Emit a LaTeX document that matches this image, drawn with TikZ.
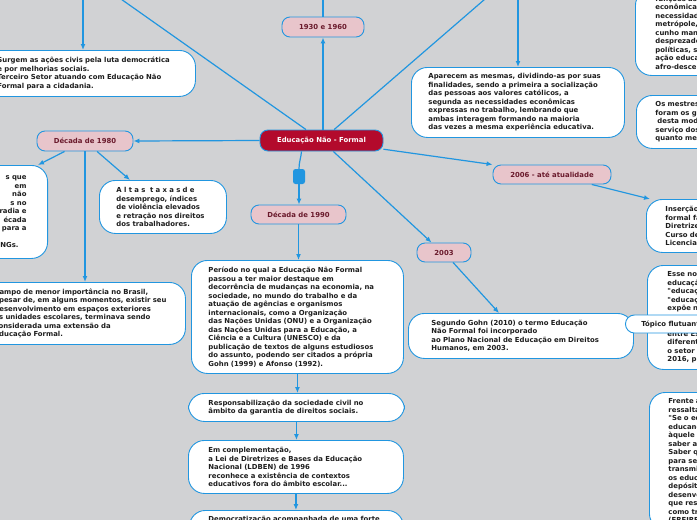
\documentclass[tikz,border=0pt]{standalone}
\usepackage{fontspec}
\usepackage{tikz}
\usetikzlibrary{positioning, arrows.meta}
\newfontfamily\mapfont{DejaVu Sans}
\definecolor{canvas}{HTML}{D1D2D4}
\definecolor{linkblue}{HTML}{2196E0}
\definecolor{topicpink}{HTML}{E8C5CB}
\definecolor{topictext}{HTML}{6A1A2C}
\definecolor{rootred}{HTML}{B30A2C}
\definecolor{notetext}{HTML}{1E1E1E}
\newcommand{\mapsize}{\fontsize{6.9}{8.5}\selectfont}

\begin{document}
\begin{tikzpicture}[x=1pt, y=-1pt,
  conn/.style={draw=linkblue, line width=1.2pt},
  arr/.style={conn, -{Latex[length=6pt,width=5pt]}},
  topic/.style={rectangle, rounded corners=8pt, draw=linkblue, line width=0.9pt,
    fill=topicpink, text=topictext, font=\mapfont\bfseries\mapsize, inner sep=0pt},
  root/.style={topic, fill=rootred, text=white},
  note/.style={rectangle, rounded corners=16pt, draw=linkblue, line width=0.9pt,
    fill=white, text=notetext, font=\mapfont\bfseries\mapsize, align=left,
    anchor=north west, inner ysep=2pt},
  floating/.style={rectangle, rounded corners=9pt, draw=linkblue, line width=0.9pt,
    fill=white, text=notetext, font=\mapfont\bfseries\mapsize, anchor=west,
    inner xsep=16pt, inner ysep=0pt, minimum height=18pt},
  handle/.style={rectangle, rounded corners=2.5pt, fill=linkblue, minimum width=12pt,
    minimum height=15pt, inner sep=0pt},
  ]
\useasboundingbox (0,0) rectangle (697,520);
\fill[canvas] (0,0) rectangle (697,520);
\clip (0,0) rectangle (697,520);

% topics
\node[root, minimum width=123pt, minimum height=21pt] (central) at (321.5,140.5) {Educação Não - Formal};
\node[topic, minimum width=82pt, minimum height=20pt] (t1930) at (323,27) {1930 e 1960};
\node[topic, minimum width=96pt, minimum height=20pt] (t1980) at (85,141) {Década de 1980};
\node[topic, minimum width=95pt, minimum height=19pt] (t1990) at (298.5,214.5) {Década de 1990};
\node[topic, minimum width=118pt, minimum height=19pt] (t2006) at (552,174.5) {2006 - até atualidade};
\node[topic, minimum width=54pt, minimum height=19pt] (t2003) at (444,252.5) {2003};
\node[handle] (fold) at (299,176.5) {};

% notes
\node[note, text width=180pt, inner xsep=18pt, minimum height=46pt] (surgem) at (-21,50)
  {Surgem as ações civis pela luta democrática\\ e por melhorias sociais.\\
   Terceiro Setor atuando com Educação Não\\ Formal para a cidadania.};
\node[note, text width=179pt, inner xsep=17pt, minimum height=70pt] (aparecem) at (411,67)
  {Aparecem as mesmas, dividindo-as por suas\\ finalidades, sendo a primeira a socialização\\
   das pessoas aos valores católicos, a\\ segunda as necessidades econômicas\\
   expressas no trabalho, lembrando que\\ ambas interagem formando na maioria\\
   das vezes a mesma experiência educativa.};
\node[note, text width=130pt, inner xsep=20pt, minimum height=86pt] (funcoes) at (635,-11)
  {funções as\\ econômicas\\ necessidades\\ metrópole,\\ cunho manual\\ desprezados\\
   políticas, sem\\ ação educativa\\ afro-descendentes};
\node[note, text width=130pt, inner xsep=19pt, minimum height=53pt] (mestres) at (636,95)
  {Os mestres\\ foram os grandes\\ \hspace*{2pt}desta modalidade\\ serviço dos\\ quanto mestres};
\node[note, align=right, anchor=north east, text width=100pt, inner xsep=21pt,
  minimum height=93pt] (movimentos) at (48,165)
  {s que\hspace*{5pt}\\ em\hspace*{9pt}\\ não\hspace*{8pt}\\ s no\hspace*{4pt}\\ radia e\\
   écada\hspace*{4pt}\\ para a\\[8.5pt] NGs.\hspace*{8pt}};
\node[note, text width=93pt, inner xsep=17pt, minimum height=53pt] (altas) at (99,180)
  {A l t a s \ t a x a s d e\\ desemprego, índices\\ de violência elevados\\
   e retração nos direitos\\ dos trabalhadores.};
\node[note, text width=176pt, inner xsep=15pt, minimum height=62pt] (campo) at (-21,282)
  {Campo de menor importância no Brasil,\\ apesar de, em alguns momentos, existir seu\\
   desenvolvimento em espaços exteriores\\ às unidades escolares, terminava sendo\\
   considerada uma extensão da\\ Educação Formal.};
\node[note, text width=178pt, inner xsep=17pt, minimum height=113pt] (periodo) at (191,260)
  {Período no qual a Educação Não Formal\\ passou a ter maior destaque em\\
   decorrência de mudanças na economia, na\\ sociedade, no mundo do trabalho e da\\
   atuação de agências e organismos\\ internacionais, como a Organização\\
   das Nações Unidas (ONU) e a Organização\\ das Nações Unidas para a Educação, a\\
   Ciência e a Cultura (UNESCO) e da\\ publicação de textos de alguns estudiosos\\
   do assunto, podendo ser citados a própria\\ Gohn (1999) e Afonso (1992).};
\node[note, text width=176pt, inner xsep=20pt, minimum height=28pt] (resp) at (188,393)
  {Responsabilização da sociedade civil no\\ âmbito da garantia de direitos sociais.};
\node[note, text width=175pt, inner xsep=20pt, minimum height=53pt] (ldben) at (188,440)
  {Em complementação,\\ a Lei de Diretrizes e Bases da Educação\\ Nacional (LDBEN) de 1996\\
   reconhece a existência de contextos\\ educativos fora do âmbito escolar...};
\node[note, text width=176pt, inner xsep=19pt, inner ysep=6pt, text depth=30pt] (democ) at (189,510)
  {Democratização acompanhada de uma forte};
\node[note, text width=179pt, inner xsep=23pt, minimum height=45pt] (gohn) at (408,313)
  {Segundo Gohn (2010) o termo Educação\\ Não Formal foi incorporado\\
   ao Plano Nacional de Educação em Direitos\\ Humanos, em 2003.};
\node[note, text width=130pt, inner xsep=19pt, minimum height=53pt] (insercao) at (646,199)
  {Inserção da educação\\ formal face às\\ Diretrizes\\ Curso de Pedagogia\\ Licenciatura};
\node[note, text width=130pt, inner xsep=20pt, minimum height=104pt] (esse) at (647,265)
  {Esse novo\\ educação\\ "educação\\ "educação\\ expõe na\\[17pt] entre Estado\\
   diferentes\\ o setor público\\ 2016, p.};
\node[floating] (topico) at (625,324) {Tópico flutuante};
\node[note, text width=120pt, inner xsep=19pt, inner ysep=6pt] (frente) at (649,392)
  {Frente a isso,\\ ressalta\\ "Se o educador\\ educando\\ àquele que\\ saber a\\ Saber que\\
   para ser\\ transmitido\\ os educandos\\ depósitos\\ desenvolver\\ que resulta\\
   como transmissão\\ (FREIRE};

% links leaving the picture
\coordinate (upsurgem) at (83,-20);
\coordinate (upaparecem) at (518,-20);
\coordinate (up1930) at (323,-20);
\coordinate (upleft) at (94,-20);
\coordinate (upright) at (507,-20);

% connectors
\draw[conn] (central) -- (upleft);
\draw[conn] (central) -- (upright);
\draw[conn] (t1930.north) -- (up1930);
\draw[arr] (upsurgem) -- (upsurgem |- surgem.north);
\draw[arr] (upaparecem) -- (upaparecem |- aparecem.north);
\draw[arr] (central.north -| t1930) -- (t1930.south);
\draw[arr] (central.west) -- (t1980.east);
\draw[arr] (t1980) -- ([xshift=-10pt]movimentos.north east);
\draw[arr] (t1980) -- ([xshift=31pt]altas.north west);
\draw[arr] (t1980.south) -- (t1980.south |- campo.north);
\draw[conn] ([xshift=-20pt]central.south) to[out=-95, in=90] (fold.north);
\draw[arr] (fold.south) -- (fold.south |- t1990.north);
\draw[arr] (t1990.south) -- (t1990.south |- periodo.north);
\draw[arr] (periodo.south) -- (periodo.south |- resp.north);
\draw[arr] (resp.south) -- (resp.south |- ldben.north);
\draw[arr] (ldben.south) -- (ldben.south |- democ.north);
\draw[arr] (central) -- (t2006.north west);
\draw[arr] (t2006) -- ([xshift=4pt]insercao.north west);
\draw[arr] (central) -- ([xshift=15pt]t2003.north west);
\draw[arr] (t2003) -- ([xshift=91pt]gohn.north west);
\end{tikzpicture}
\end{document}
